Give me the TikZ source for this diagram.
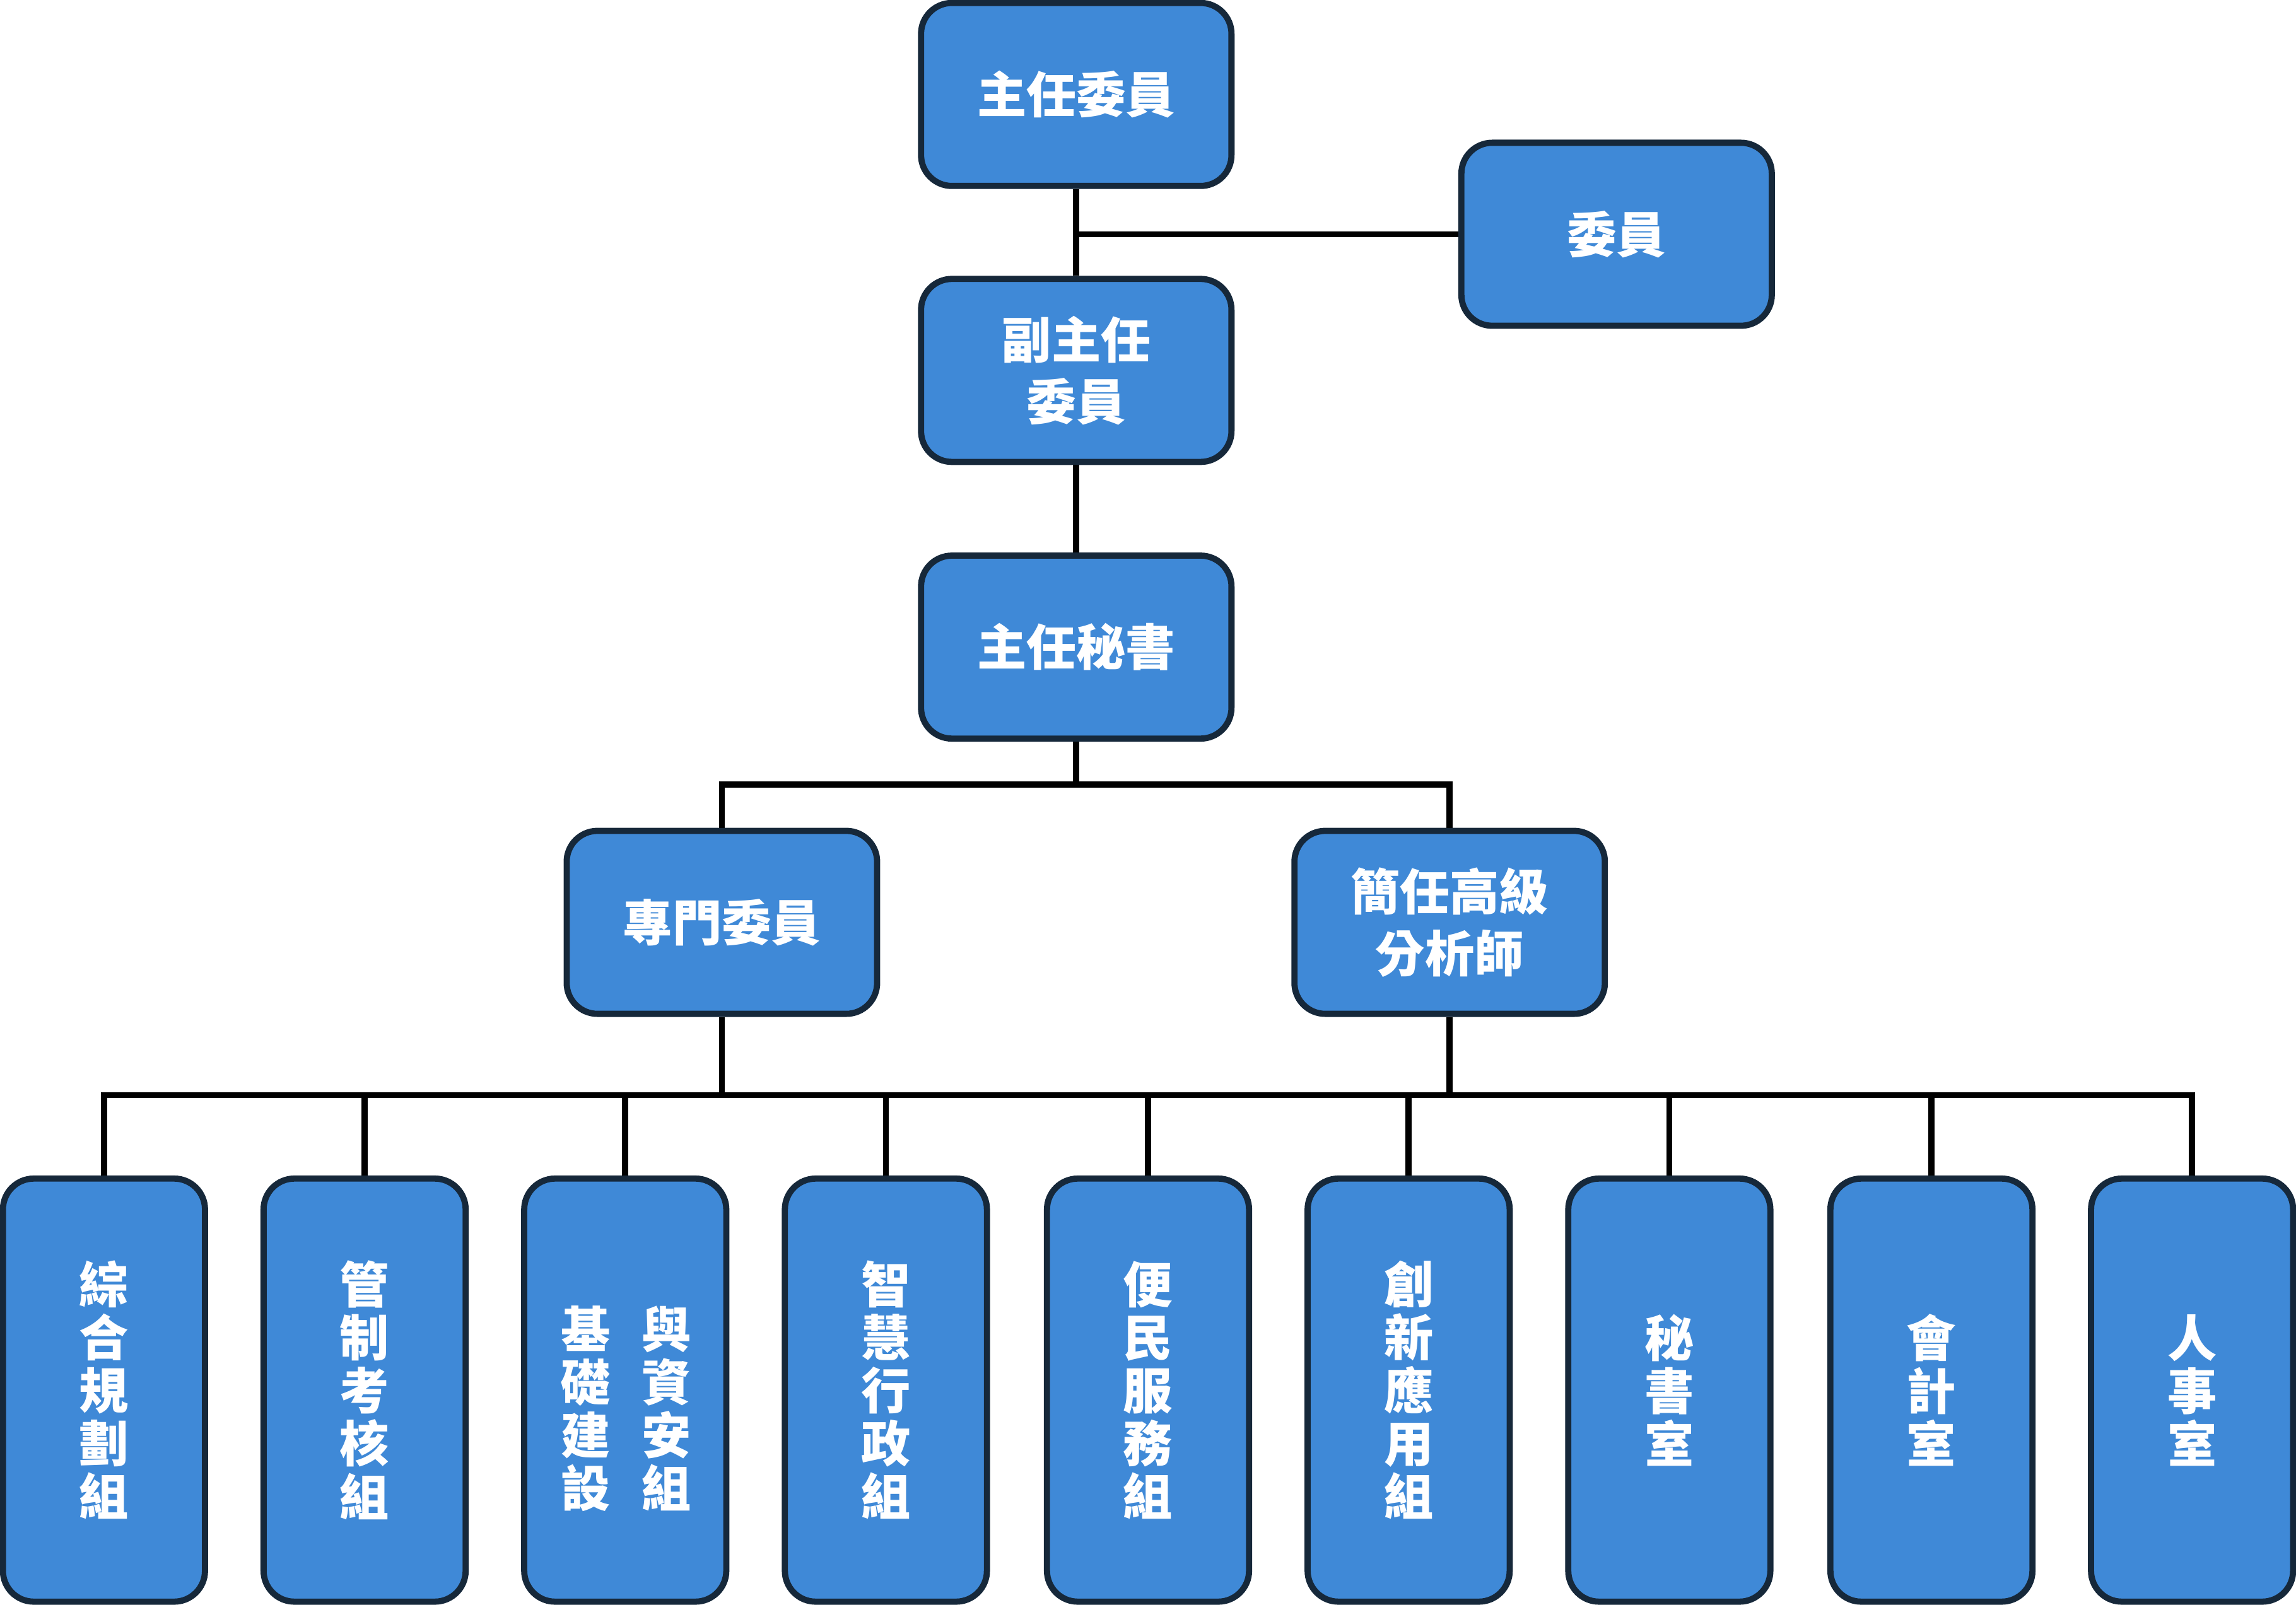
\documentclass[tikz,border=0pt]{standalone}
\usepackage{fontspec}
\newfontfamily\cjk{Noto Sans CJK TC}
\usetikzlibrary{positioning}

\definecolor{boxblue}{HTML}{3F89D7}
\definecolor{boxline}{HTML}{16283A}

\tikzset{
  unit/.style={draw=boxline, line width=1.2pt, fill=boxblue, rounded corners=6pt,
    text=white, font={\cjk\bfseries\fontsize{9.6}{12}\selectfont}, align=center,
    minimum width=2.12cm, minimum height=1.25cm, inner sep=0pt},
  group/.style={unit, minimum width=1.38cm, minimum height=2.89cm,
    font={\cjk\bfseries\fontsize{9.6}{10.3}\selectfont}},
  link/.style={line width=1.2pt, black}
}

\begin{document}
\begin{tikzpicture}
\useasboundingbox (0,0) rectangle (15.68,-10.96);

% upper levels
\node[unit] (head) at (7.35,-0.645) {主任委員};
\node[unit] (member) at (11.04,-1.60) {委員};
\node[unit] (deputy) at (7.35,-2.53) {副主任\\委員};
\node[unit] (secretary) at (7.35,-4.42) {主任秘書};
\node[unit] (specialist) at (4.93,-6.30) {專門委員};
\node[unit] (analyst) at (9.90,-6.30) {簡任高級\\分析師};

% groups
\foreach \name/\x/\txt in {
  g1/0.71/{綜\\合\\規\\劃\\組},
  g2/2.49/{管\\制\\考\\核\\組},
  g3/4.27/{},
  g4/6.05/{智\\慧\\行\\政\\組},
  g5/7.84/{便\\民\\服\\務\\組},
  g6/9.62/{創\\新\\應\\用\\組},
  g7/11.40/{秘\\書\\室},
  g8/13.19/{會\\計\\室},
  g9/14.97/{人\\事\\室}}
  \node[group] (\name) at (\x,-9.495) {\txt};
\node[group, draw=none, fill=none, minimum width=0pt] at (4.00,-9.62) {基\\礎\\建\\設};
\node[group, draw=none, fill=none, minimum width=0pt] at (4.55,-9.62) {與\\資\\安\\組};

% connectors
\coordinate (memberjoin) at (7.35,-1.60);
\coordinate (split) at (7.35,-5.36);
\coordinate (bus) at (4.93,-7.48);
\draw[link] (head) -- (deputy);
\draw[link] (memberjoin) -- (member);
\draw[link] (deputy) -- (secretary);
\draw[link] (secretary) -- (split);
\draw[link] (specialist.north) |- (split) -| (analyst.north);
\draw[link] (specialist) -- (bus);
\draw[link] (analyst.south) -- (analyst.south |- bus);
\draw[link] (g1.north) |- (bus) -| (g9.north);
\foreach \name in {g2,g3,g4,g5,g6,g7,g8}
  \draw[link] (\name.north) -- (\name.north |- bus);
\end{tikzpicture}
\end{document}
